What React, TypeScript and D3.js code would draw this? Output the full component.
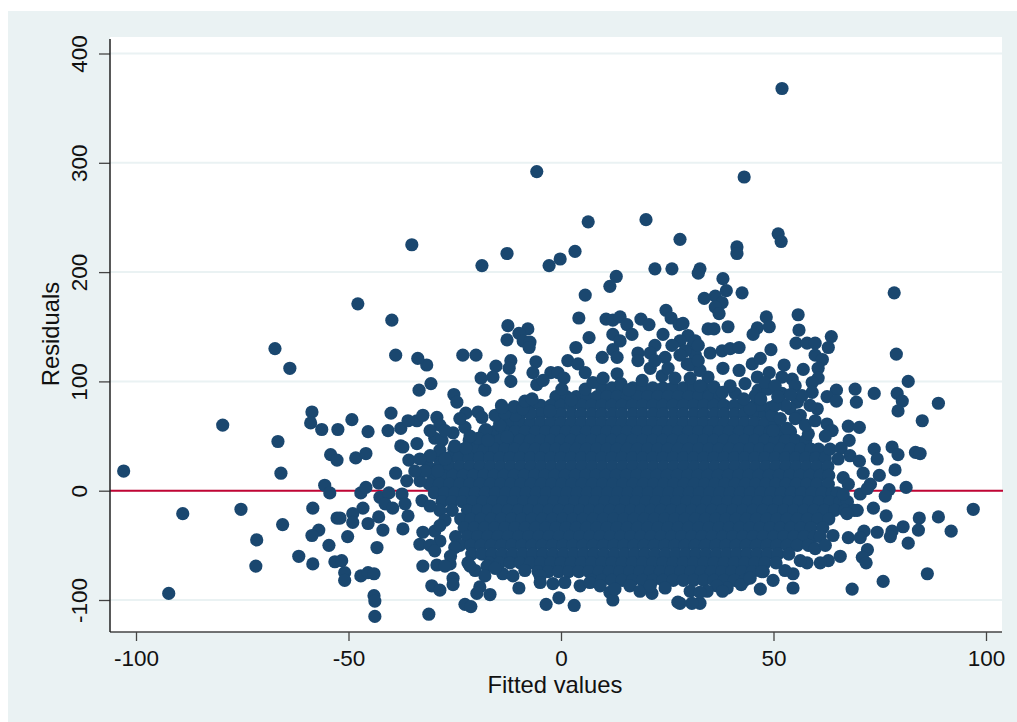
import React, { useRef, useEffect } from 'react';
import * as d3 from 'd3';

type Pt = [number, number];

const xTicks = [-100, -50, 0, 50, 100];
const yTicks = [-100, 0, 100, 200, 300, 400];

// [fitted, residual]
const leftTail: Pt[] = [
  [-102.9,18],[-92.3,-94],[-89,-21],[-79.6,60],[-75.3,-17],[-71.6,-45],[-71.8,-69],[-67.3,130],[-66.6,45],[-65.9,16],
  [-65.5,-31],[-63.8,112],[-61.7,-60],[-58.6,72],[-58.9,62],[-56.3,56],[-52.5,56],[-54.2,33],[-52.7,28],[-55.6,5],
  [-54.4,-2],[-58.4,-16],[-52.7,-25],[-57,-36],[-58.6,-41],[-54.6,-50],[-58.4,-67],[-53.2,-65],[-49.2,65],[-45.4,54],
  [-47.8,171],[-39.8,156],[-38.9,124],[-40.7,55],[-48.3,30],[-45.9,34],[-47.1,-2],[-45.9,3],[-42.9,7],[-42.6,-6],
  [-40.5,-2],[-37.4,-3],[-41.4,-12],[-39.6,-16],[-36.7,-12],[-36,-23],[-46.6,-16],[-49,-21],[-49,-29],[-45.4,-30],
  [-42.9,-24],[-41.9,-36],[-37.2,-35],[-50.2,-42],[-43.3,-52],[-52,-25],[-51.6,-64],[-50.9,-75],[-50.9,-82],[-47.1,-78],
  [-45.4,-75],[-44,-76],[-44,-96],[-43.8,-101],[-43.8,-115],[-37.7,41],[-37.7,57],[-37.2,40],[-33.9,43],[-33.9,64],
  [-36,64],[-35.8,28],[-38.9,16],[-36.3,9],[-40,71],[-32.5,69],[-29.2,67],[-28.5,60],[-29.7,48],[-28,46],
  [-25.4,53],[-22.6,58],[-17.7,56],[-19.5,48],[-22.4,39],[-12.7,49],[-17.2,46],[-30.6,98],[-33.4,92],[-31.6,115],
  [-33.7,121],[-35.1,225],[-23.1,124],[-20,124],[-25.2,88],[-24.5,81],[-22.4,71],[-19.5,72],[-18.6,67],[-32.7,-9],
  [-33.2,9],[-32.5,-38],[-33.2,-49],[-30.8,55],[-27.3,55],[-23.8,66],[-14.4,60],[-10.8,69],[-15.5,69],[-13.2,71],
  [-7.3,71],[-21.4,50],[-25,41],[-28.5,37],[-30.8,32],[-27.3,29],[-32,18],[-29,18],[-34.4,18],[-33.2,29],
  [-28.5,-18],[-30.8,-14],[-27.3,-27],[-29.7,-37],[-28.5,-46],[-14,78],[-11,77],[-9,75],[-28.5,-32],[-30.8,-50],
];

const upperCloud: Pt[] = [
  [-18.6,206],[-12.7,217],[-2.8,206],[-0.2,212],[3.3,219],[6.4,246],[-5.7,292],[20,248],[28,230],[22.1,203],
  [26.1,203],[13,196],[11.5,187],[5.7,179],[4.2,158],[-12.5,151],[-7.8,148],[-9.9,144],[-12.7,138],[-8.9,137],
  [-7.3,136],[-7.5,131],[-11.8,119],[-12.2,112],[-15.3,114],[-16,104],[-18.8,103],[-11.8,100],[-17.9,92],[-5.9,118],
  [-6.6,108],[-2.4,108],[-0.7,108],[0.7,103],[-5.7,97],[-4.2,101],[0.2,93],[-8.5,82],[-6.8,84],[2.4,83],
  [5.7,93],[7.5,99],[9.9,103],[1.6,119],[4,116],[5.7,108],[6.6,140],[3.5,131],[9.7,122],[10.6,157],
  [12.2,156],[13.9,159],[15.5,152],[18.8,157],[20.7,152],[16.7,143],[12.2,143],[13.9,137],[12.2,129],[13.2,122],
  [24,143],[24.7,165],[25.9,158],[27.8,152],[22.1,133],[18.1,126],[18.1,119],[21,126],[24.5,122],[21,112],
  [23.8,105],[19.1,101],[13.2,107],[14.1,98],[-13.9,76],[-2.6,73],[52,368],[43.1,287],[51.1,235],[51.8,228],
  [41.4,223],[41.4,217],[42.6,181],[32.7,203],[32.3,199],[38.1,194],[38.9,183],[36.3,178],[33.7,176],[37.9,172],
  [36.3,168],[37.2,162],[34.6,148],[36,148],[39.3,150],[46.2,149],[45.2,143],[48.3,159],[49,150],[55.8,161],
  [56,147],[55.3,135],[57.9,135],[59.8,135],[63.6,141],[62.9,131],[59.8,124],[61.5,120],[49.4,129],[35.1,126],
  [37.9,128],[39.8,130],[41.9,131],[28.7,153],[29.9,142],[31.1,133],[31.6,124],[29.7,116],[28,137],[29.2,128],
  [30.4,115],[38.1,112],[41.9,110],[45,116],[46.9,121],[49,108],[52.5,115],[57,111],[60.5,112],[60.5,103],
  [59.1,99],[54.4,102],[52,104],[46.2,104],[34.6,104],[59.1,90],[52,89],[41,89],[46.4,92],[48.7,93],
  [55.6,81],[53.9,75],[56.3,69],[60.3,75],[49.2,76],[46.9,78],[44.5,75],[49.7,69],[62.6,61],[63.8,55],
  [62.2,50],[58.2,52],[53.2,57],[49.9,55],[39.8,96],[43.3,98],[45.7,87],[48,99],[50.4,96],[55.1,96],
  [56.7,87],[58.6,78],[52.7,78],[50.4,78],[55.1,66],[57.5,60],[59.8,64],[51.6,66],[31.6,137],[30.4,103],
  [32.7,96],[32.7,110],[32.3,119],[32.3,133],[28,124],[26.1,133],[25.2,112],[26.8,103],[22.1,119],[16,92],
  [36,95],[38,90],[43,84],[47,84],[51,86],[54,88],
];

const rightTail: Pt[] = [
  [78.4,181],[78.9,125],[81.7,100],[88.8,80],[85,64],[79.1,89],[80.3,82],[79.3,73],[73.7,89],[69.2,93],
  [69.5,81],[64.8,92],[62.6,86],[64.8,82],[67.6,59],[70.2,58],[67.8,46],[73.7,38],[74.4,29],[77.9,40],
  [79.3,33],[83.4,35],[84.5,34],[78.6,19],[81.2,3],[74.9,14],[77.2,1],[76.3,-5],[97,-17],[88.8,-24],
  [91.8,-37],[84.3,-25],[84.1,-36],[80.5,-33],[77.9,-37],[77.5,-42],[74.4,-38],[71.3,-37],[76.5,-23],[81.7,-48],
  [86.2,-76],[75.8,-83],[68.5,-90],[72.1,-54],[70.9,-61],[71.8,-66],[73.5,-16],[65.7,-60],[62.9,-64],[57.9,-66],
  [61,-66],[67.6,-43],[70.4,-43],[64,-41],[66.4,12],[67.6,6],[66.4,-3],[63.3,38],[65.9,39],[68,32],
  [65.2,29],[70.2,27],[71.1,16],[72.8,6],[70.4,-3],[72.1,2],[69.7,-18],[67.3,-21],[59.8,-53],[62.2,-50],
];

const lowerEdge: Pt[] = [
  [54.6,-76],[54.6,-89],[46.9,-90],[49.9,-82],[42.4,-86],[39.1,-89],[36.7,-87],[34.4,-92],[32.7,-103],[30.8,-103],
  [28,-103],[30.4,-92],[-29.7,-55],[-32.5,-69],[-29.2,-68],[-26.1,-67],[-21.9,-66],[-17.4,-69],[-25,-52],[-13.7,-76],
  [-11.3,-78],[-8.5,-73],[-9.9,-89],[-4.9,-78],[-1.9,-85],[4.5,-87],[6.8,-84],[-0.5,-98],[-3.5,-104],[3.1,-105],
  [11.5,-93],[12.2,-100],[16.2,-87],[21.4,-94],[24.5,-89],[27.5,-102],[-25.4,-80],[-25.4,-86],[-30.4,-87],[-28.5,-91],
  [-19.1,-88],[-19.8,-94],[-16.7,-95],[-22.6,-104],[-21.2,-106],[-31.1,-113],[-26,-60],[-20.2,-73],[-17.9,-78],[-15.5,-71],
  [-21.4,-69],[-4.9,-84],[0.9,-84],[9.2,-87],[12.7,-90],[18.6,-92],[21,-87],[32.7,-93],[38,-92],[44.5,-80],
  [47.2,-74],[52.7,-73],[56.3,-64],[-27.3,-69],
];

// the solid middle of the cloud, one band of residuals at a time
const coreResiduals = [94, 86, 78, 70, 62, 54, 46, 38, 30, 22, 14, 6, -2, -10, -18, -26, -34, -42, -50, -58, -66, -74, -82];
const coreFitted: number[][] = [
  [9.6,12,14.4,16.9,19.2,21.6,24,26.3,28.8,31.2,33.6],
  [-1.2,1.3,3.6,6,8.5,10.8,13.2,15.6,18,20.4,22.8,25.2,27.6,30,32.4,34.8,37.3],
  [-7.2,-4.8,-2.4,0,2.4,4.9,7.2,9.6,12,14.4,16.8,19.2,21.7,24,26.4,28.8,31.2,33.6,36,38.4,40.8,43.2,45.6],
  [-11.9,-9.6,-7.1,-4.8,-2.3,0,2.5,4.8,7.3,9.6,12.1,14.4,16.9,19.2,21.7,24,26.5,28.8,31.3,33.6,36.1,38.4,40.9,43.2,45.7,48],
  [-14.4,-12,-9.6,-7.2,-4.8,-2.4,0,2.4,4.8,7.2,9.6,12,14.4,16.8,19.2,21.6,24,26.4,28.8,31.2,33.6,36,38.4,40.8,43.2,45.6,48,50.4],
  [-18,-15.6,-13.2,-10.8,-8.4,-6,-3.6,-1.2,1.2,3.6,6,8.4,10.8,13.2,15.6,18,20.4,22.8,25.2,27.6,30,32.4,34.8,37.2,39.6,42,44.4,46.8,49.2,51.6,54],
  [-21.6,-19.2,-16.8,-14.4,-12,-9.6,-7.2,-4.8,-2.4,0,2.4,4.8,7.2,9.6,12,14.4,16.8,19.2,21.6,24,26.4,28.8,31.2,33.6,36,38.4,40.8,43.2,45.6,48,50.4,52.8,55.2,57.6],
  [-25.2,-22.8,-20.4,-18,-15.6,-13.2,-10.8,-8.4,-6,-3.6,-1.2,1.2,3.6,6,8.4,10.8,13.2,15.6,18,20.4,22.8,25.2,27.6,30,32.4,34.8,37.2,39.6,42,44.4,46.8,49.2,51.6,54,56.4,58.8,60.6],
  [-28.8,-26.4,-24,-21.6,-19.2,-16.8,-14.4,-12,-9.6,-7.2,-4.8,-2.4,0,2.4,4.8,7.2,9.6,12,14.4,16.8,19.2,21.6,24,26.4,28.8,31.2,33.6,36,38.4,40.8,43.2,45.6,48,50.4,52.8,55.2,57.6,60,62.2],
  [-31.2,-28.6,-26.2,-23.8,-21.4,-19,-16.6,-14.2,-11.8,-9.4,-7,-4.6,-2.2,0.2,2.6,5,7.4,9.8,12.2,14.6,17,19.4,21.8,24.2,26.6,29,31.4,33.8,36.2,38.6,41,43.4,45.8,48.2,50.6,53,55.4,57.8,60.2,62.8],
  [-30.2,-27.8,-25.4,-23,-20.6,-18.2,-15.8,-13.4,-11,-8.6,-6.2,-3.8,-1.4,1,3.4,5.8,8.2,10.6,13,15.4,17.8,20.2,22.6,25,27.4,29.8,32.2,34.6,37,39.4,41.8,44.2,46.6,49,51.4,53.8,56.2,58.6,61,63],
  [-31,-28.6,-26.2,-23.8,-21.4,-19,-16.6,-14.2,-11.8,-9.4,-7,-4.6,-2.2,0.2,2.6,5,7.4,9.8,12.2,14.6,17,19.4,21.8,24.2,26.6,29,31.4,33.8,36.2,38.6,41,43.4,45.8,48.2,50.6,53,55.4,57.8,60.2,62.9],
  [-29.8,-27.4,-25,-22.6,-20.2,-17.8,-15.4,-13,-10.6,-8.2,-5.8,-3.4,-1,1.4,3.8,6.2,8.6,11,13.4,15.8,18.2,20.6,23,25.4,27.8,30.2,32.6,35,37.4,39.8,42.2,44.6,47,49.4,51.8,54.2,56.6,59,61.4,63.8,65],
  [-28,-25.6,-23.2,-20.8,-18.4,-16,-13.6,-11.2,-8.8,-6.4,-4,-1.6,0.8,3.2,5.6,8,10.4,12.8,15.2,17.6,20,22.4,24.8,27.2,29.6,32,34.4,36.8,39.2,41.6,44,46.4,48.8,51.2,53.6,56,58.4,60.8,63.2,65.6,67.4],
  [-25.6,-22,-19.6,-17.2,-14.8,-12.4,-10,-7.6,-5.2,-2.8,-0.4,2,4.4,6.8,9.2,11.6,14,16.4,18.8,21.2,23.6,26,28.4,30.8,33.2,35.6,38,40.4,42.8,45.2,47.6,50,52.4,54.8,57.2,59.6,62,64.4,66.8,69],
  [-23.6,-21.2,-18.8,-16.4,-14,-11.6,-9.2,-6.8,-4.4,-2,0.4,2.8,5.2,7.6,10,12.4,14.8,17.2,19.6,22,24.4,26.8,29.2,31.6,34,36.4,38.8,41.2,43.6,46,48.4,50.8,53.2,55.6,58,60.4,63],
  [-22.8,-20.4,-18,-15.6,-13.2,-10.8,-8.4,-6,-3.6,-1.2,1.2,3.6,6,8.4,10.8,13.2,15.6,18,20.4,22.8,25.2,27.6,30,32.4,34.8,37.2,39.6,42,44.4,46.8,49.2,51.6,54,56.4,58.8,61.6],
  [-24.8,-22,-19.6,-17.2,-14.8,-12.4,-10,-7.6,-5.2,-2.8,-0.4,2,4.4,6.8,9.2,11.6,14,16.4,18.8,21.2,23.6,26,28.4,30.8,33.2,35.6,38,40.4,42.8,45.2,47.6,50,52.4,54.8,57.2,59.6,61],
  [-23.8,-21.2,-18.8,-16.4,-14,-11.6,-9.2,-6.8,-4.4,-2,0.4,2.8,5.2,7.6,10,12.4,14.8,17.2,19.6,22,24.4,26.8,29.2,31.6,34,36.4,38.8,41.2,43.6,46,48.4,50.8,53.2,55.6,58.2],
  [-21,-18.6,-16.2,-13.8,-11.4,-9,-6.6,-4.2,-1.8,0.6,3,5.4,7.8,10.2,12.6,15,17.4,19.8,22.2,24.6,27,29.4,31.8,34.2,36.6,39,41.4,43.8,46.2,48.6,51,53.6],
  [-16.8,-14.4,-12,-9.6,-7.2,-4.8,-2.4,0,2.4,4.8,7.2,9.6,12,14.4,16.8,19.2,21.6,24,26.4,28.8,31.2,33.6,36,38.4,40.8,43.2,45.6,48,50.6],
  [-5.4,-3,-0.6,1.8,4.2,6.6,9,11.4,13.8,16.2,18.6,21,23.4,25.8,28.2,30.6,33,35.4,37.8,40.2,42.6,45,47.6],
  [7.2,9.6,12,14.4,16.8,19.2,21.6,24,26.4,28.8,31.2,33.6,36,38.4,40.8,43.2],
];

const App: React.FC = () => {
  const svgRef = useRef<SVGSVGElement>(null);

  useEffect(() => {
    if (!svgRef.current) return;
    const svg = d3.select(svgRef.current);
    svg.selectAll('*').remove();

    const font = '"Liberation Sans", Arial, sans-serif';
    const ink = '#111';
    const panel = '#eaf2f3';
    const plot = { left: 110, right: 1002, top: 37, bottom: 632 };

    const x = d3.scaleLinear().domain([-100, 100]).range([136, 986]);
    const y = d3.scaleLinear().domain([-100, 400]).range([600, 53.5]);

    svg.append('rect').attr('x', 8).attr('y', 11).attr('width', 1009).attr('height', 711).attr('fill', panel);
    svg.append('rect')
      .attr('x', plot.left).attr('y', plot.top)
      .attr('width', plot.right - plot.left).attr('height', plot.bottom - plot.top)
      .attr('fill', '#fff');

    svg.append('g').selectAll('line')
      .data(yTicks)
      .enter().append('line')
      .attr('x1', plot.left).attr('x2', plot.right)
      .attr('y1', d => y(d)).attr('y2', d => y(d))
      .attr('stroke', panel).attr('stroke-width', 2);

    svg.append('line')
      .attr('x1', plot.left).attr('x2', plot.right + 1)
      .attr('y1', y(0)).attr('y2', y(0))
      .attr('stroke', '#c10534').attr('stroke-width', 2);

    const cloud: Pt[] = coreResiduals.flatMap((r, i) => coreFitted[i].map(f => [f, r] as Pt));
    const points = [...cloud, ...leftTail, ...upperCloud, ...rightTail, ...lowerEdge];

    svg.append('g').selectAll('circle')
      .data(points)
      .enter().append('circle')
      .attr('cx', d => x(d[0]))
      .attr('cy', d => y(d[1]))
      .attr('r', 6.6)
      .attr('fill', '#1a476f');

    const xAxis = svg.append('g')
      .attr('transform', `translate(0,${plot.bottom})`)
      .call(d3.axisBottom(x).tickValues(xTicks).tickFormat(d => String(d)).tickSize(9).tickPadding(9));
    xAxis.select('.domain').remove();
    xAxis.selectAll('text').attr('font-size', 22.5).attr('font-family', font).attr('fill', ink);
    xAxis.selectAll('line').attr('stroke', '#444').attr('stroke-width', 1.3);

    const yAxis = svg.append('g')
      .attr('transform', `translate(${plot.left},0)`)
      .call(d3.axisLeft(y).tickValues(yTicks).tickFormat(d => String(d)).tickSize(11));
    yAxis.select('.domain').remove();
    yAxis.selectAll('line').attr('stroke', '#444').attr('stroke-width', 1.3);
    yAxis.selectAll('text')
      .attr('font-size', 22.5).attr('font-family', font).attr('fill', ink)
      .attr('text-anchor', 'middle').attr('dy', null).attr('x', null).attr('y', null)
      .attr('transform', 'translate(-23,0) rotate(-90)');

    svg.append('line')
      .attr('x1', plot.left).attr('x2', plot.right)
      .attr('y1', plot.bottom).attr('y2', plot.bottom)
      .attr('stroke', '#444').attr('stroke-width', 1.5);
    svg.append('line')
      .attr('x1', plot.left).attr('x2', plot.left)
      .attr('y1', plot.top + 2).attr('y2', plot.bottom)
      .attr('stroke', '#222').attr('stroke-width', 1.5);

    svg.append('text')
      .attr('x', 555).attr('y', 693)
      .attr('text-anchor', 'middle')
      .attr('font-size', 23.8).attr('font-family', font).attr('fill', ink)
      .text('Fitted values');

    svg.append('text')
      .attr('transform', 'translate(59,334) rotate(-90)')
      .attr('text-anchor', 'middle')
      .attr('font-size', 23.8).attr('font-family', font).attr('fill', ink)
      .text('Residuals');
  }, []);

  return (
    <svg ref={svgRef} width="1017" height="722" style={{ position: 'absolute', left: 0, top: 0 }}></svg>
  );
};

export default App;
